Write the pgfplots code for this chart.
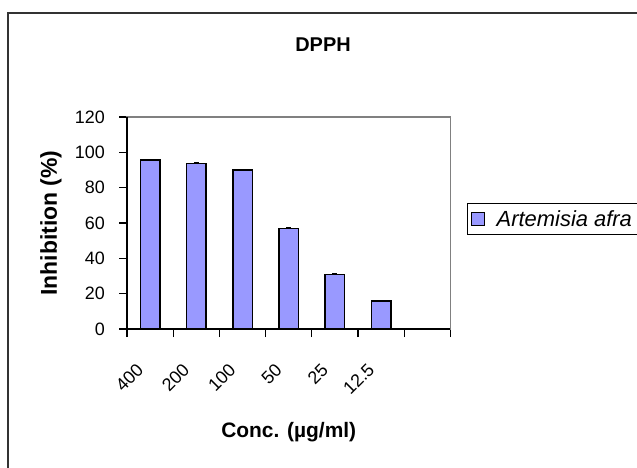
\documentclass[border=0pt]{standalone}
\usepackage{pgfplots}
\pgfplotsset{compat=1.18}
\usepackage{fontspec}
\setmainfont{Liberation Sans}
\definecolor{barfill}{HTML}{9999FF}
\newcommand{\tickfont}{\fontsize{18}{21}\selectfont}
\pgfplotstableread{
x y e
0 95.6 0.5
1 93.8 0.5
2 90.0 0.5
3 57.0 0.5
4 30.8 0.5
5 15.8 0.5
}\dpph
\begin{document}
\begin{tikzpicture}
\useasboundingbox (0,0) rectangle (637bp,468bp);
\draw[line width=1.3bp, black!80] (8bp,-20bp) rectangle (660bp,455bp);
\node[anchor=base, font=\bfseries\fontsize{20}{24}\selectfont] at (323bp,416bp) {DPPH};
\begin{axis}[
  at={(127bp,139bp)}, anchor=south west,
  scale only axis, width=323.5bp, height=212bp,
  xmin=-0.5, xmax=6.5, ymin=0, ymax=120,
  clip=false,
  axis line style={draw=gray, line width=1.3bp},
  tick align=outside, major tick length=8bp,
  tick style={black, line width=1.2bp},
  xtick pos=bottom, ytick pos=left,
  ytick={0,20,...,120},
  xtick={-0.5,0.5,...,6.5}, xticklabels={},
  extra x ticks={0,1,2,3,4,5},
  extra x tick labels={400,200,100,50,25,12.5},
  extra x tick style={major tick length=0pt,
     xticklabel style={font=\tickfont, inner sep=0pt, anchor=east,
       xshift=-10bp, yshift=-37.5bp, rotate=45}},
  /pgf/number format/assume math mode=true,
  tick label style={font=\tickfont},
  yticklabel style={font=\tickfont, anchor=east, inner sep=0pt, xshift=-14bp},
  xlabel={Conc. (µg/ml)},
  xlabel style={font=\bfseries\fontsize{21}{25}\selectfont,
     at={(axis description cs:0.5,-0.514)}, anchor=base},
  ylabel={Inhibition (\%)},
  ylabel style={font=\bfseries\fontsize{23}{27}\selectfont,
     at={(axis description cs:-0.235,0.5)}, anchor=center},
  legend style={at={(axis description cs:1.051,0.5943)}, anchor=north west,
     draw=black, line width=1bp, font=\fontsize{22}{26}\selectfont,
     inner xsep=4bp, inner ysep=5bp},
  legend cell align=left,
  legend image code/.code={\draw[#1, line width=1bp] (0bp,-6.5bp) rectangle (13bp,6.5bp); \path (22bp,0bp);},
]
\addplot[ybar, bar width=19.5bp, fill=barfill, draw=black, line width=1.5bp,
  error bars/.cd, y dir=plus, y explicit,
  error bar style={line width=1bp, black},
  error mark options={rotate=90, mark size=2.5bp, line width=1bp, black}]
  table[x=x, y=y, y error=e] {\dpph};
\addlegendentry{\textit{Artemisia afra}}
\draw[black, line width=1.3bp] (rel axis cs:0,1) -- (rel axis cs:0,0) -- (rel axis cs:1,0);
\end{axis}
\end{tikzpicture}
\end{document}
